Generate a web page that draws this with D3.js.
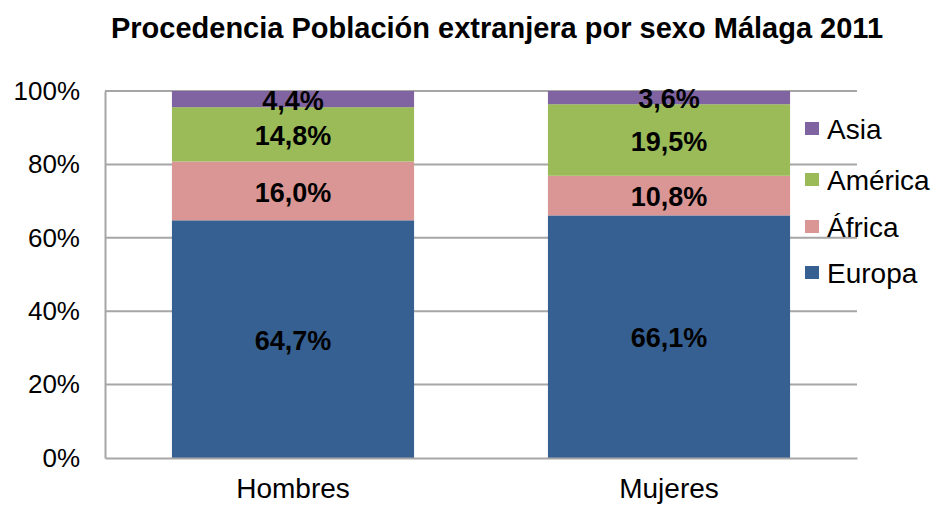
<!DOCTYPE html>
<html>
<head>
<meta charset="utf-8">
<script src="https://cdn.jsdelivr.net/npm/d3@7"></script>
<style>
body { margin: 0; background: #fff; }
text { font-family: "Liberation Sans", Arial, sans-serif; }
</style>
</head>
<body>
<script>
var categories = ["Hombres", "Mujeres"];
var series = ["Europa", "África", "América", "Asia"];
var europa = [64.7, 66.1];
var africa = [16.0, 10.8];
var america = [14.8, 19.5];
var asia = [4.4, 3.6];
var labels = [["64,7%", "66,1%"], ["16,0%", "10,8%"], ["14,8%", "19,5%"], ["4,4%", "3,6%"]];
var yTicks = [0, 0.2, 0.4, 0.6, 0.8, 1];
var colors = ["#376092", "#d99694", "#9bbb59", "#8064a2"];

var width = 935, height = 506;
var margin = {top: 91, right: 78, bottom: 48, left: 105};
var w = width - margin.left - margin.right,
    h = height - margin.top - margin.bottom;

var svg = d3.select("body").append("svg")
    .attr("width", width)
    .attr("height", height);

svg.append("text")
    .attr("x", 497)
    .attr("y", 38)
    .attr("text-anchor", "middle")
    .style("font-size", "29px")
    .style("font-weight", "bold")
    .text("Procedencia Población extranjera por sexo Málaga 2011");

var g = svg.append("g")
    .attr("transform", "translate(" + margin.left + "," + margin.top + ")");

var x = d3.scaleBand().domain(categories).range([0, w])
    .paddingInner(0.356).paddingOuter(0.178);
var y = d3.scaleLinear().domain([0, 1]).range([h, 0]);

// gridlines
g.selectAll("line.grid")
    .data(yTicks.slice(1))
    .enter().append("line")
    .attr("class", "grid")
    .attr("x1", 0).attr("x2", w)
    .attr("y1", function(d) { return y(d); })
    .attr("y2", function(d) { return y(d); })
    .attr("stroke", "#a6a6a6")
    .attr("stroke-width", 2);

var values = [europa, africa, america, asia];
var rows = categories.map(function(c, i) {
    var r = {cat: c};
    series.forEach(function(s, k) { r[s] = values[k][i]; });
    return r;
});
var stack = d3.stack().keys(series).offset(d3.stackOffsetExpand);
var stacked = stack(rows);

var layer = g.selectAll("g.layer")
    .data(stacked)
    .enter().append("g")
    .attr("class", "layer")
    .attr("fill", function(d, k) { return colors[k]; });

layer.selectAll("rect")
    .data(function(d) { return d; })
    .enter().append("rect")
    .attr("x", function(d) { return x(d.data.cat); })
    .attr("width", x.bandwidth())
    .attr("y", function(d) { return y(d[1]); })
    .attr("height", function(d) { return y(d[0]) - y(d[1]); });

layer.each(function(d, k) {
    d3.select(this).selectAll("text")
        .data(d)
        .enter().append("text")
        .attr("x", function(p) { return x(p.data.cat) + x.bandwidth() / 2; })
        .attr("y", function(p) { return (y(p[0]) + y(p[1])) / 2 + 1; })
        .attr("dy", "0.36em")
        .attr("text-anchor", "middle")
        .attr("fill", "#000")
        .style("font-size", "27px")
        .style("font-weight", "bold")
        .text(function(p, i) { return labels[k][i]; });
});

// axes
var yAxis = d3.axisLeft(y).tickValues(yTicks).tickSize(0).tickPadding(25)
    .tickFormat(d3.format(".0%"));
var ya = g.append("g").call(yAxis);
ya.select(".domain").attr("stroke", "#a6a6a6").attr("stroke-width", 2);
ya.selectAll("text").style("font-size", "26px").attr("fill", "#000");

var xAxis = d3.axisBottom(x).tickSize(0).tickPadding(20);
var xa = g.append("g").attr("transform", "translate(0," + h + ")").call(xAxis);
xa.select(".domain").attr("stroke", "#a6a6a6").attr("stroke-width", 2);
xa.selectAll("text").style("font-size", "28px").attr("fill", "#000");

// legend (reverse order)
var legendY = [129, 180, 227, 273];
var legend = svg.selectAll("g.legend")
    .data(series.slice().reverse())
    .enter().append("g")
    .attr("class", "legend")
    .attr("transform", function(d, i) { return "translate(805," + legendY[i] + ")"; });
legend.append("rect")
    .attr("x", 0).attr("y", -7)
    .attr("width", 14).attr("height", 13)
    .attr("fill", function(d) { return colors[series.indexOf(d)]; });
legend.append("text")
    .attr("x", 22).attr("y", 0).attr("dy", "0.36em")
    .style("font-size", "28px")
    .text(function(d) { return d; });
</script>
</body>
</html>
